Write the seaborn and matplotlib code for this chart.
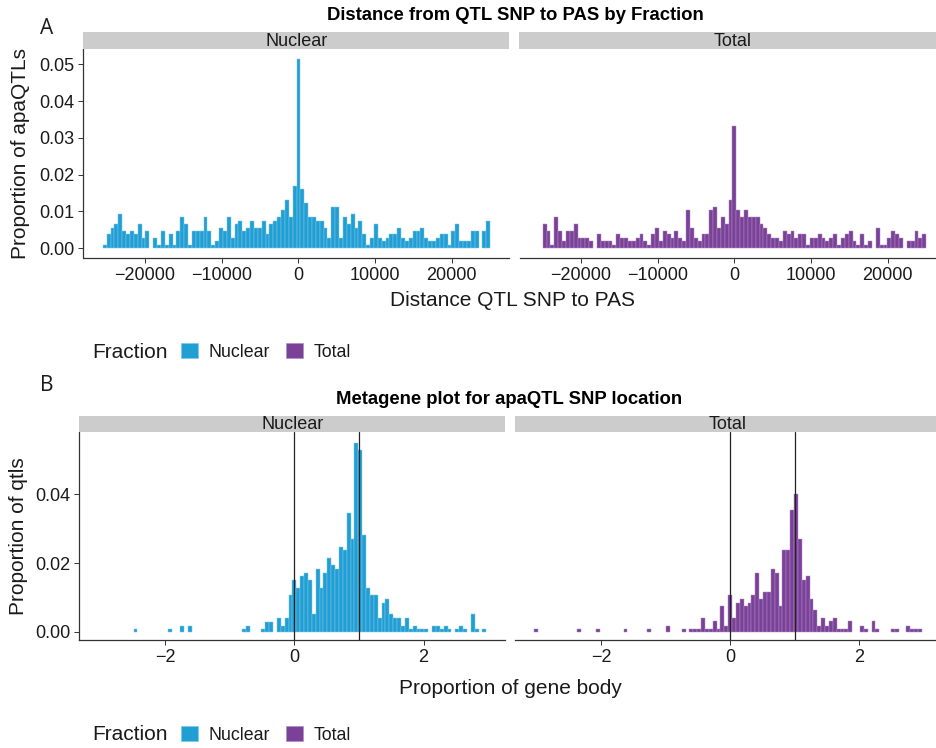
import numpy as np
import pandas as pd
import matplotlib
matplotlib.use("Agg")
import matplotlib.pyplot as plt
from matplotlib.patches import Patch
import seaborn as sns

sns.set_theme(style="ticks")
plt.rcParams["font.family"] = ["Liberation Sans", "DejaVu Sans"]

FRACTIONS = ["Nuclear", "Total"]
FRACTION_COLORS = {"Nuclear": "#219ED3", "Total": "#7B4097"}
FRACTION_EDGES = {"Nuclear": "#7FC8EA", "Total": "#B08DC4"}

# Distance from QTL SNP to PAS: bins of 505 bp, bin index -50 ... 50 (0 = centred on the PAS)
DIST_BIN_WIDTH = 505
DIST_BIN_INDEX = np.arange(-50, 51)
DIST_NUCLEAR = [
    0.0009, 0.0038, 0.0056, 0.0066, 0.0094, 0.0047, 0.0038, 0.0047, 0.0038, 0.0066,
    0.0028, 0.0047, 0.0000, 0.0028, 0.0009, 0.0047, 0.0009, 0.0038, 0.0009, 0.0047,
    0.0085, 0.0066, 0.0009, 0.0047, 0.0047, 0.0047, 0.0085, 0.0047, 0.0009, 0.0019,
    0.0056, 0.0047, 0.0085, 0.0028, 0.0066, 0.0075, 0.0047, 0.0056, 0.0075, 0.0056,
    0.0056, 0.0075, 0.0038, 0.0066, 0.0075, 0.0085, 0.0103, 0.0132, 0.0085, 0.0169,
    0.0514, 0.0160, 0.0122, 0.0085, 0.0085, 0.0075, 0.0075, 0.0056, 0.0028, 0.0113,
    0.0113, 0.0028, 0.0085, 0.0066, 0.0094, 0.0056, 0.0075, 0.0038, 0.0009, 0.0028,
    0.0066, 0.0028, 0.0019, 0.0028, 0.0038, 0.0038, 0.0056, 0.0028, 0.0019, 0.0028,
    0.0047, 0.0047, 0.0056, 0.0028, 0.0019, 0.0019, 0.0028, 0.0038, 0.0038, 0.0009,
    0.0047, 0.0066, 0.0019, 0.0019, 0.0019, 0.0047, 0.0047, 0.0000, 0.0047, 0.0075,
    0.0000,
]
DIST_TOTAL = [
    0.0000,
    0.0066, 0.0047, 0.0009, 0.0085, 0.0047, 0.0019, 0.0047, 0.0047, 0.0066, 0.0028,
    0.0028, 0.0028, 0.0019, 0.0000, 0.0038, 0.0019, 0.0019, 0.0019, 0.0009, 0.0038,
    0.0028, 0.0028, 0.0019, 0.0019, 0.0028, 0.0038, 0.0019, 0.0009, 0.0038, 0.0056,
    0.0019, 0.0047, 0.0038, 0.0028, 0.0047, 0.0028, 0.0019, 0.0103, 0.0056, 0.0028,
    0.0019, 0.0038, 0.0038, 0.0103, 0.0113, 0.0056, 0.0085, 0.0066, 0.0132,
    0.0333,
    0.0103, 0.0085, 0.0103, 0.0085, 0.0085, 0.0085, 0.0066, 0.0056, 0.0038, 0.0028,
    0.0028, 0.0019, 0.0047, 0.0038, 0.0047, 0.0028, 0.0038, 0.0038, 0.0009, 0.0028,
    0.0028, 0.0038, 0.0028, 0.0019, 0.0028, 0.0038, 0.0009, 0.0028, 0.0038, 0.0047,
    0.0019, 0.0009, 0.0038, 0.0009, 0.0019, 0.0000, 0.0056, 0.0009, 0.0009, 0.0028,
    0.0047, 0.0038, 0.0028, 0.0000, 0.0019, 0.0019, 0.0047, 0.0028, 0.0038, 0.0000,
]

# Position along the gene body: bins of 0.06, bin index -50 ... 50 (0 = gene start)
GENE_BIN_WIDTH = 0.06
GENE_BIN_INDEX = np.arange(-50, 51)
GENE_NUCLEAR = [
    0, 0, 0, 0, 0, 0, 0, 0, 0, 0.0009,
    0, 0, 0, 0, 0, 0, 0, 0, 0.0009, 0,
    0, 0.0018, 0, 0.0018, 0, 0, 0, 0, 0, 0,
    0, 0, 0, 0, 0, 0, 0, 0.0009, 0.0018, 0,
    0, 0, 0.0009, 0.0029, 0.0029, 0, 0.0041, 0.0018, 0.0041, 0.0107,
    0.0150, 0.0128, 0.0161, 0.0171, 0.0150, 0.0053, 0.0182, 0.0128, 0.0171, 0.0215,
    0.0193, 0.0182, 0.0248, 0.0237, 0.0345, 0.0270, 0.0550, 0.0529, 0.0281, 0.0128,
    0.0107, 0.0107, 0.0041, 0.0084, 0.0095, 0.0053, 0.0041, 0.0041, 0.0018, 0.0041,
    0.0009, 0.0018, 0.0009, 0.0009, 0.0009, 0, 0.0018, 0.0018, 0.0009, 0.0018,
    0.0009, 0, 0.0009, 0.0018, 0.0009, 0, 0.0052, 0.0009, 0, 0.0009,
    0,
]
GENE_TOTAL = [
    0.0009, 0, 0, 0, 0, 0, 0, 0, 0, 0,
    0, 0.0009, 0, 0, 0, 0, 0.0009, 0, 0, 0,
    0, 0, 0, 0.0009, 0, 0, 0, 0, 0, 0.0009,
    0, 0, 0, 0, 0.0018, 0, 0, 0, 0.0009, 0,
    0.0009, 0.0009, 0.0009, 0.0041, 0.0009, 0.0009, 0.0031, 0.0009, 0.0074, 0.0018,
    0.0107, 0.0041, 0.0085, 0.0095, 0.0074, 0.0085, 0.0107, 0.0172, 0.0095, 0.0117,
    0.0117, 0.0183, 0.0172, 0.0074, 0.0237, 0.0237, 0.0356, 0.0400, 0.0269, 0.0150,
    0.0161, 0.0095, 0.0063, 0.0018, 0.0041, 0.0018, 0.0031, 0.0041, 0.0009, 0.0009,
    0.0009, 0.0031, 0, 0, 0.0018, 0.0009, 0, 0.0031, 0.0009, 0,
    0, 0, 0.0009, 0.0009, 0, 0, 0.0018, 0.0009, 0.0009, 0.0009,
    0,
]

DIST_X_TICKS = [-20000, -10000, 0, 10000, 20000]
DIST_Y_TICKS = [0.00, 0.01, 0.02, 0.03, 0.04, 0.05]
GENE_X_TICKS = [-2, 0, 2]
GENE_Y_TICKS = [0.00, 0.02, 0.04]
GENE_BODY_MARKS = [0, 1]


def long_table(index, width, nuclear, total):
    centers = index * width
    return pd.concat([
        pd.DataFrame({"position": centers, "proportion": nuclear, "Fraction": "Nuclear"}),
        pd.DataFrame({"position": centers, "proportion": total, "Fraction": "Total"}),
    ], ignore_index=True)


dist_df = long_table(DIST_BIN_INDEX, DIST_BIN_WIDTH, DIST_NUCLEAR, DIST_TOTAL)
gene_df = long_table(GENE_BIN_INDEX, GENE_BIN_WIDTH, GENE_NUCLEAR, GENE_TOTAL)

W, H = 937, 748
fig = plt.figure(figsize=(W / 100, H / 100), dpi=100)
fig.patch.set_facecolor("white")


def px_axes(x0, y0, x1, y1):
    return fig.add_axes([x0 / W, 1 - y1 / H, (x1 - x0) / W, (y1 - y0) / H])


TEXT = "#1a1a1a"
AXIS = "#333333"


def strip(x0, y0, x1, y1, label):
    sax = px_axes(x0, y0, x1, y1)
    sax.set_facecolor("#CCCCCC")
    for s in sax.spines.values():
        s.set_visible(False)
    sax.set_xticks([])
    sax.set_yticks([])
    sax.text(0.5, 0.45, label, transform=sax.transAxes, ha="center", va="center",
             fontsize=13, color=TEXT)


def facet_panel(ax, df, fraction, width, index, xlim, ylim, xticks, yticks, show_y):
    sub = df[df["Fraction"] == fraction]
    lo = (index.min() - 0.5) * width
    hi = (index.max() + 0.5) * width
    sns.histplot(data=sub, x="position", weights="proportion", binwidth=width,
                 binrange=(lo, hi), ax=ax,
                 color=FRACTION_COLORS[fraction], edgecolor=FRACTION_EDGES[fraction],
                 linewidth=0.35, alpha=1.0, legend=False)
    for p in ax.patches:
        if p.get_height() <= 1e-9:
            p.set_visible(False)
    ax.set_xlim(*xlim)
    ax.set_ylim(*ylim)
    ax.set_xticks(xticks)
    ax.set_yticks(yticks)
    ax.set_xlabel("")
    ax.set_ylabel("")
    ax.set_facecolor("white")
    ax.spines["top"].set_visible(False)
    ax.spines["right"].set_visible(False)
    ax.spines["bottom"].set_color(AXIS)
    ax.spines["bottom"].set_linewidth(0.9)
    ax.tick_params(axis="both", direction="out", length=3.8, width=0.7, color=AXIS,
                   labelsize=13, labelcolor=TEXT, pad=2.5)
    if show_y:
        ax.spines["left"].set_color(AXIS)
        ax.spines["left"].set_linewidth(0.9)
    else:
        ax.spines["left"].set_visible(False)
        ax.tick_params(axis="y", left=False, labelleft=False)
    ax.grid(False)


# ---- A: distance from QTL SNP to PAS ----
dist_xlim = (-28027, 27522)
dist_ylim = (-0.00264, 0.05416)
axA1 = px_axes(83.5, 49, 509.5, 258)
axA2 = px_axes(519.5, 49, 945.5, 258)
facet_panel(axA1, dist_df, "Nuclear", DIST_BIN_WIDTH, DIST_BIN_INDEX, dist_xlim, dist_ylim,
            DIST_X_TICKS, DIST_Y_TICKS, True)
facet_panel(axA2, dist_df, "Total", DIST_BIN_WIDTH, DIST_BIN_INDEX, dist_xlim, dist_ylim,
            DIST_X_TICKS, DIST_Y_TICKS, False)
axA1.set_yticklabels([f"{v:.2f}" for v in DIST_Y_TICKS])
strip(83.5, 32, 509.5, 49, "Nuclear")
strip(519.5, 32, 945.5, 49, "Total")

fig.text(47 / W, 1 - 28 / H, "A", fontsize=15, ha="center", va="center",
         family=["Open Sans", "DejaVu Sans"], color=TEXT)
fig.text(515 / W, 1 - 15 / H, "Distance from QTL SNP to PAS by Fraction", fontsize=13.3,
         fontweight="bold", ha="center", va="center", color="black")
fig.text(21 / W, 1 - 153.5 / H, "Proportion of apaQTLs", rotation=90, fontsize=15,
         ha="center", va="center", color=TEXT)
fig.text(513 / W, 1 - 300 / H, "Distance QTL SNP to PAS", fontsize=15,
         ha="center", va="center", color=TEXT)

# ---- B: metagene position of apaQTL SNPs ----
gene_xlim = (-3.33, 3.26)
gene_ylim = (-0.00242, 0.0581)
axB1 = px_axes(79.3, 432.3, 505, 640)
axB2 = px_axes(515, 432.3, 940.7, 640)
facet_panel(axB1, gene_df, "Nuclear", GENE_BIN_WIDTH, GENE_BIN_INDEX, gene_xlim, gene_ylim,
            GENE_X_TICKS, GENE_Y_TICKS, True)
facet_panel(axB2, gene_df, "Total", GENE_BIN_WIDTH, GENE_BIN_INDEX, gene_xlim, gene_ylim,
            GENE_X_TICKS, GENE_Y_TICKS, False)
axB1.set_yticklabels([f"{v:.2f}" for v in GENE_Y_TICKS])
for ax in (axB1, axB2):
    for mark in GENE_BODY_MARKS:
        ax.axvline(mark, color="#222222", linewidth=0.9, zorder=5)
strip(79.3, 416, 505, 432.3, "Nuclear")
strip(515, 416, 940.7, 432.3, "Total")

fig.text(47 / W, 1 - 386 / H, "B", fontsize=15, ha="center", va="center",
         family=["Open Sans", "DejaVu Sans"], color=TEXT)
fig.text(509 / W, 1 - 400 / H, "Metagene plot for apaQTL SNP location", fontsize=13.3,
         fontweight="bold", ha="center", va="center", color="black")
fig.text(19 / W, 1 - 536 / H, "Proportion of qtls", rotation=90, fontsize=15,
         ha="center", va="center", color=TEXT)
fig.text(510 / W, 1 - 688 / H, "Proportion of gene body", fontsize=15,
         ha="center", va="center", color=TEXT)

# ---- legends ----
handles = [Patch(facecolor=FRACTION_COLORS[f], edgecolor=FRACTION_EDGES[f], linewidth=0.5)
           for f in FRACTIONS]
for y in (352, 735):
    fig.text(92 / W, 1 - y / H, "Fraction", fontsize=15, ha="left", va="center", color=TEXT)
    fig.legend(handles, FRACTIONS, ncol=2, loc="center left",
               bbox_to_anchor=(181 / W, 1 - y / H), frameon=False, fontsize=12.8,
               handlelength=0.95, handleheight=0.95, handletextpad=0.6,
               columnspacing=0.9, borderpad=0, borderaxespad=0, labelcolor=TEXT)

fig.savefig("out.png", dpi=100, facecolor="white")
